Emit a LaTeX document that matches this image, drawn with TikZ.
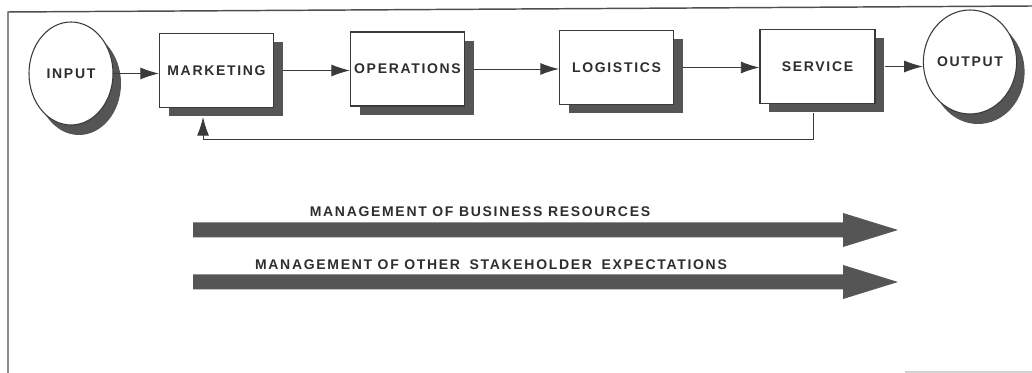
\documentclass[tikz,border=0pt]{standalone}
\usepackage{fontspec}
\setmainfont{Liberation Sans}
\newfontfamily\lblfont{Liberation Sans}[LetterSpace=12]
\usetikzlibrary{shadows,arrows.meta,shapes.geometric}
\definecolor{shade}{HTML}{555555}
\definecolor{ink}{HTML}{3A3A3A}
\definecolor{txt}{HTML}{2E2E2E}
\tikzset{
  x=0.75pt, y=-0.75pt,
  labelfont/.style={font=\lblfont\bfseries\fontsize{10.5}{12}\selectfont, text=txt},
  stage/.style={rectangle, draw=ink, line width=0.8pt, fill=white,
    minimum width=85.5pt, minimum height=55.5pt, inner sep=0pt, labelfont,
    drop shadow={shadow xshift=6.75pt, shadow yshift=-6.75pt, fill=shade, opacity=1}},
  term/.style={ellipse, draw=ink, line width=0.8pt, fill=white, inner sep=0pt, labelfont,
    drop shadow={shadow xshift=6pt, shadow yshift=-7.5pt, fill=shade, opacity=1}},
  flow/.style={draw=ink, line width=0.7pt, -{Latex[length=14pt,width=9pt]}},
  band/.style={fill=shade},
  bandlabel/.style={labelfont, inner sep=0pt},
  frame/.style={draw=ink!90, line width=1.1pt}
}
\begin{document}
\begin{tikzpicture}
\useasboundingbox (0,0) rectangle (1032,373);
% frame
\draw[frame] (8,373) -- (8,12) -- (1032,6);
\draw[gray!35, line width=0.8pt] (905,372) -- (1032,372);

% terminals and stages
\node[term, minimum width=63pt, minimum height=77.25pt] (in) at (71,73.5) {INPUT};
\node[stage] (mkt) at (216.5,70.5) {MARKETING};
\node[stage] (ops) at (407.5,69) {OPERATIONS};
\node[stage] (log) at (616.5,67.5) {LOGISTICS};
\node[stage, minimum width=86.25pt] (svc) at (817.5,66.5) {SERVICE};
\node[term, minimum width=60pt, minimum height=78pt] (out) at (970,62) {OUTPUT};

% flow arrows
\draw[flow] (in.east) -- (in.east -| mkt.west);
\draw[flow] ([xshift=6.75pt]mkt.east) -- (mkt.east -| ops.west);
\draw[flow] ([xshift=6.75pt]ops.east) -- (ops.east -| log.west);
\draw[flow] ([xshift=6.75pt]log.east) -- (log.east -| svc.west);
\draw[flow] ([xshift=6.75pt]svc.east) -- (svc.east -| out.west);

% feedback
\coordinate (fbR) at ([xshift=-3.4pt,yshift=-6.75pt]svc.south);
\coordinate (fbL) at ([xshift=-10.1pt,yshift=-6.75pt]mkt.south);
\draw[flow] (fbR) -- ++(0,26) -| (fbL);

% management bands
\fill[band] (193,222.5) -- (843,222.5) -- (843,213) -- (898,230) -- (843,247) -- (843,237.5) -- (193,237.5) -- cycle;
\fill[band] (193,274.5) -- (843,274.5) -- (843,265) -- (898,282) -- (843,299) -- (843,289.5) -- (193,289.5) -- cycle;
\node[bandlabel] (t1) at (480,212) {MANAGEMENT OF BUSINESS RESOURCES};
\node[bandlabel] (t2) at (491,265) {MANAGEMENT OF OTHER\hspace{3pt} STAKEHOLDER\hspace{3pt} EXPECTATIONS};
\end{tikzpicture}
\end{document}
